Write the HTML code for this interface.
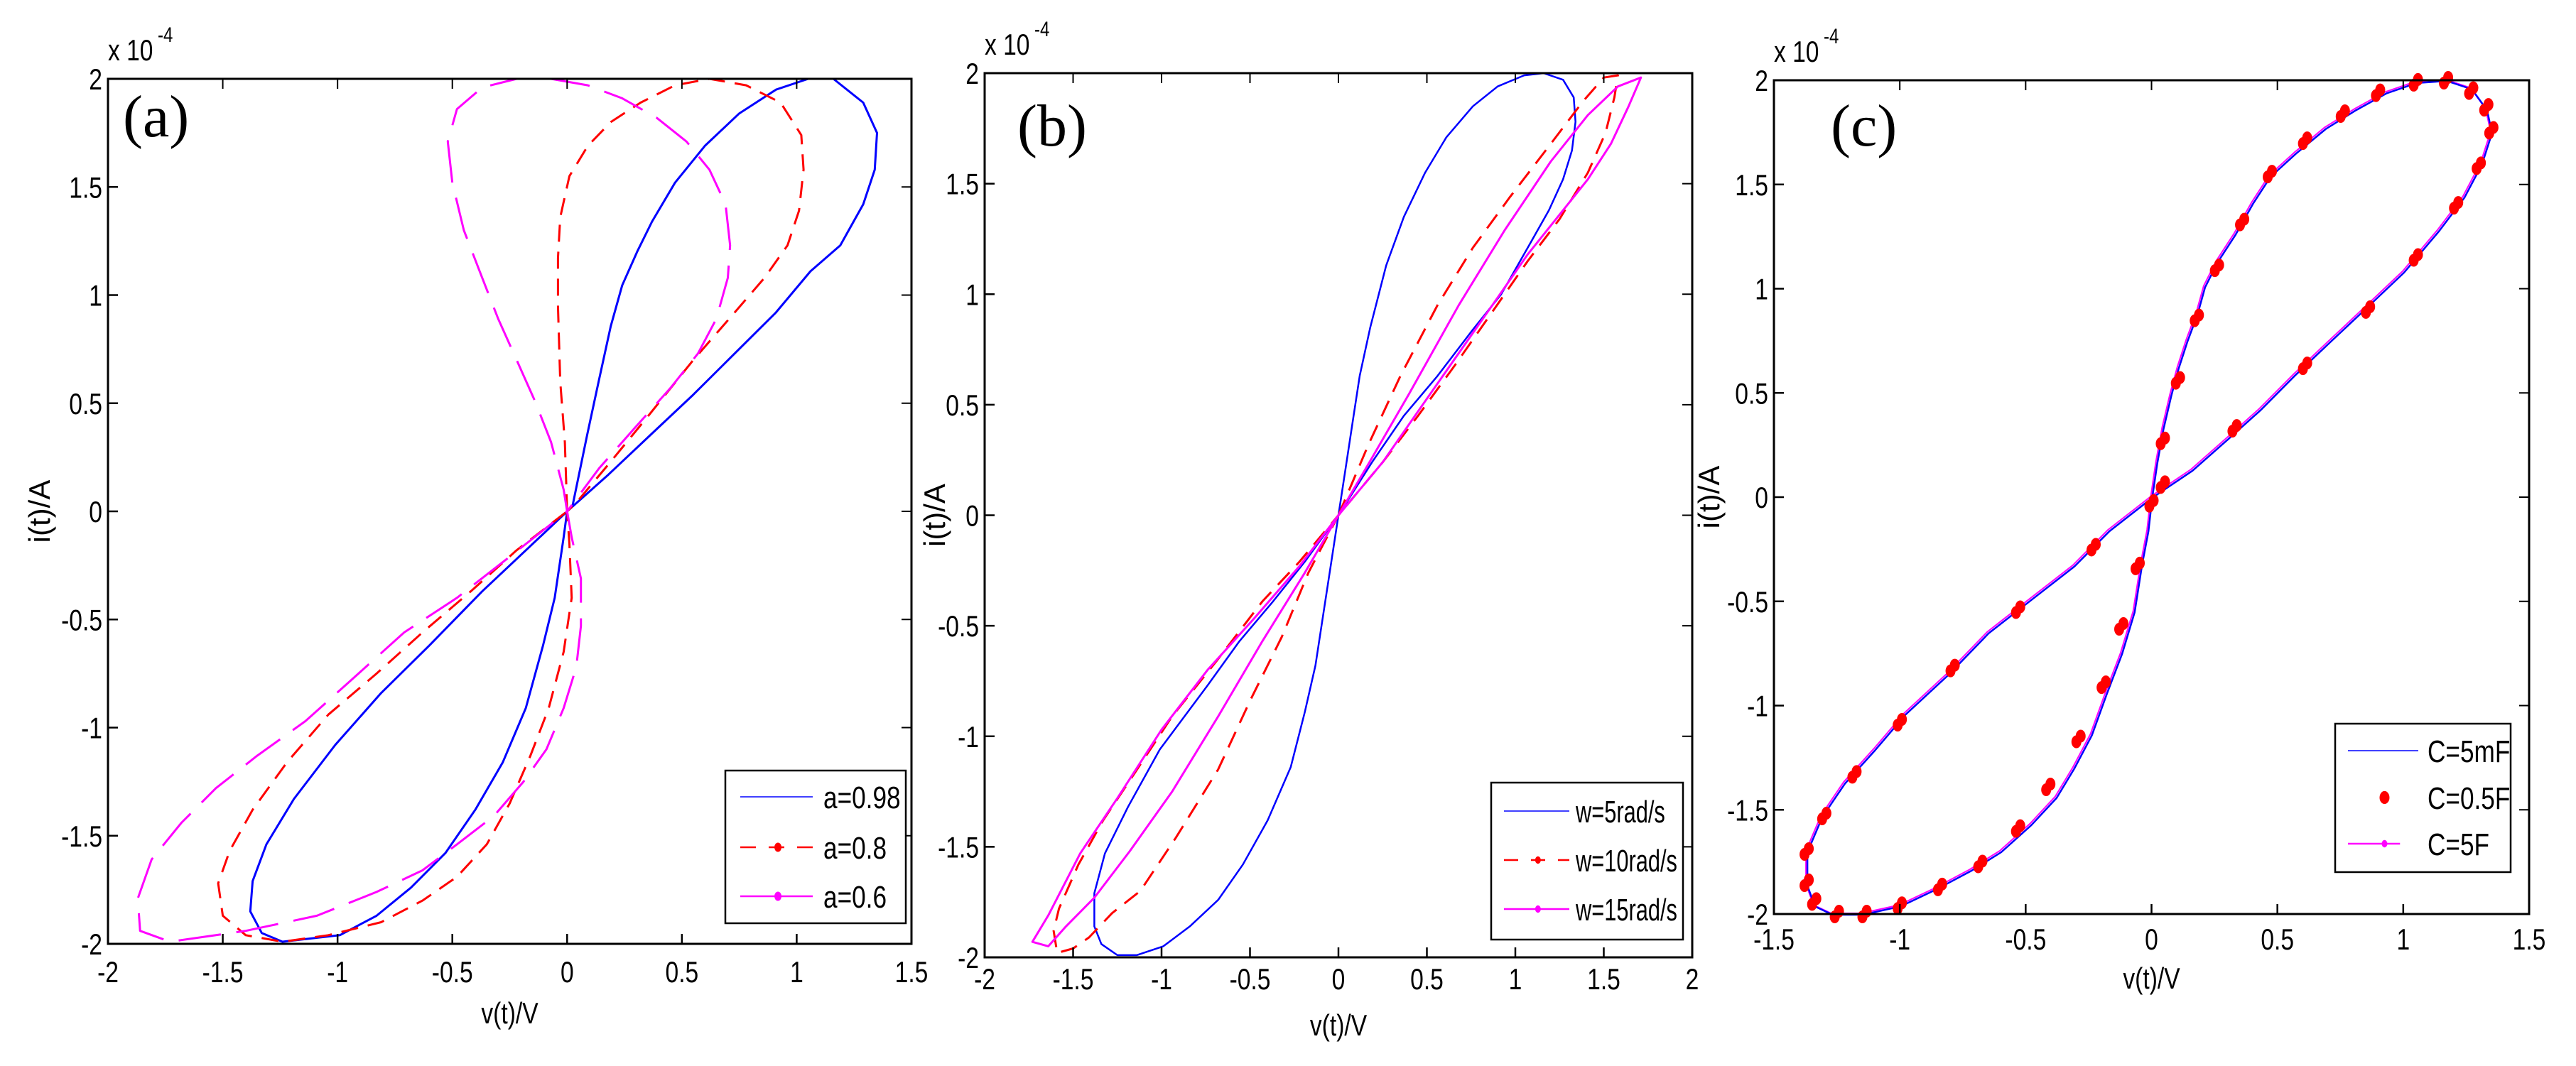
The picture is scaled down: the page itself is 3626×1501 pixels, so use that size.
<!DOCTYPE html>
<html><head><meta charset="utf-8">
<style>
html,body{margin:0;padding:0;background:#fff;}
svg{display:block;}
text{font-family:"Liberation Sans",Arial,sans-serif;fill:#000;}
.ser{font-family:"Liberation Serif","Times New Roman",serif;}
</style></head>
<body>
<svg id="fig" width="3626" height="1501" viewBox="0 0 3626 1501" xmlns="http://www.w3.org/2000/svg"></svg>
<script>
// ---------- data (v in V, i in 1e-4 A) ----------
const xTicksA = [-2,-1.5,-1,-0.5,0,0.5,1,1.5];
const xTicksB = [-2,-1.5,-1,-0.5,0,0.5,1,1.5,2];
const xTicksC = [-1.5,-1,-0.5,0,0.5,1,1.5];
const yTicks = [-2,-1.5,-1,-0.5,0,0.5,1,1.5,2];

const legendA = ["a=0.98","a=0.8","a=0.6"];
const legendB = ["w=5rad/s","w=10rad/s","w=15rad/s"];
const legendC = ["C=5mF","C=0.5F","C=5F"];

const a098 = [[0,0],[0.023,0.022],[0.087,0.352],[0.138,0.604],[0.19,0.856],[0.24,1.045],[0.305,1.20],[0.37,1.34],[0.47,1.52],[0.60,1.69],[0.75,1.84],[0.91,1.95],[1.05,2.0],[1.16,2.0],[1.29,1.89],[1.35,1.75],[1.34,1.58],[1.29,1.42],[1.19,1.23],[1.06,1.11],[0.91,0.92],[0.73,0.73],[0.55,0.54],[0.36,0.35],[0.18,0.17],[0,0],
[-0.015,-0.12],[-0.054,-0.40],[-0.105,-0.62],[-0.18,-0.91],[-0.28,-1.16],[-0.40,-1.38],[-0.53,-1.58],[-0.68,-1.74],[-0.83,-1.87],[-0.99,-1.96],[-1.24,-1.99],[-1.33,-1.95],[-1.38,-1.85],[-1.37,-1.71],[-1.31,-1.54],[-1.19,-1.33],[-1.01,-1.08],[-0.81,-0.84],[-0.60,-0.62],[-0.37,-0.37],[-0.17,-0.17],[0,0]];
const a08 = [[0,0],[-0.01,0.32],[-0.03,0.60],[-0.04,0.95],[-0.04,1.17],[-0.03,1.36],[0.01,1.55],[0.09,1.69],[0.19,1.80],[0.32,1.89],[0.47,1.97],[0.62,2.0],[0.78,1.97],[0.93,1.89],[1.02,1.74],[1.03,1.58],[1.01,1.39],[0.96,1.23],[0.86,1.08],[0.73,0.92],[0.55,0.70],[0.36,0.45],[0.19,0.23],[0.04,0.04],[0,0],
[0.01,-0.15],[0.02,-0.40],[-0.015,-0.65],[-0.08,-0.91],[-0.16,-1.13],[-0.25,-1.35],[-0.35,-1.54],[-0.48,-1.69],[-0.63,-1.80],[-0.81,-1.90],[-1.04,-1.96],[-1.24,-1.99],[-1.40,-1.96],[-1.50,-1.87],[-1.52,-1.72],[-1.47,-1.57],[-1.37,-1.38],[-1.22,-1.16],[-1.04,-0.94],[-0.83,-0.75],[-0.63,-0.56],[-0.42,-0.37],[-0.22,-0.18],[0,0]];
const a06 = [[0,0],[-0.015,0.10],[-0.07,0.32],[-0.14,0.51],[-0.22,0.70],[-0.30,0.89],[-0.37,1.08],[-0.45,1.30],[-0.50,1.52],[-0.52,1.71],[-0.48,1.86],[-0.37,1.96],[-0.22,2.0],[-0.07,2.0],[0.09,1.97],[0.24,1.91],[0.39,1.82],[0.52,1.71],[0.62,1.58],[0.69,1.42],[0.71,1.23],[0.70,1.08],[0.65,0.89],[0.57,0.73],[0.45,0.57],[0.29,0.38],[0.14,0.20],[0,0],
[0.02,-0.12],[0.06,-0.31],[0.06,-0.53],[0.04,-0.72],[-0.015,-0.91],[-0.09,-1.10],[-0.19,-1.25],[-0.32,-1.41],[-0.48,-1.54],[-0.63,-1.66],[-0.83,-1.76],[-1.09,-1.87],[-1.40,-1.94],[-1.73,-1.99],[-1.86,-1.94],[-1.87,-1.79],[-1.81,-1.61],[-1.68,-1.44],[-1.53,-1.28],[-1.35,-1.13],[-1.14,-0.97],[-0.94,-0.78],[-0.71,-0.56],[-0.48,-0.40],[-0.25,-0.21],[0,0]];

const bW5 = [[0,0],[0.04,0.21],[0.08,0.42],[0.12,0.63],[0.18,0.85],[0.27,1.13],[0.37,1.35],[0.49,1.55],[0.61,1.71],[0.76,1.85],[0.90,1.94],[1.05,1.99],[1.16,2.0],[1.27,1.97],[1.33,1.89],[1.34,1.78],[1.32,1.65],[1.27,1.52],[1.19,1.38],[1.07,1.21],[0.92,1.00],[0.76,0.84],[0.56,0.63],[0.37,0.45],[0.19,0.24],[0,0],
[-0.04,-0.21],[-0.09,-0.47],[-0.13,-0.68],[-0.19,-0.89],[-0.27,-1.14],[-0.40,-1.38],[-0.54,-1.58],[-0.68,-1.74],[-0.84,-1.86],[-0.99,-1.95],[-1.14,-1.99],[-1.25,-1.99],[-1.34,-1.94],[-1.38,-1.86],[-1.38,-1.71],[-1.32,-1.53],[-1.19,-1.32],[-1.01,-1.06],[-0.74,-0.77],[-0.56,-0.57],[-0.37,-0.39],[-0.19,-0.21],[0,0]];
const bW10 = [[0,0],[0.17,0.32],[0.35,0.63],[0.56,0.95],[0.76,1.21],[0.97,1.44],[1.20,1.68],[1.38,1.87],[1.50,1.98],[1.58,1.99],[1.56,1.89],[1.51,1.73],[1.41,1.55],[1.25,1.34],[1.07,1.15],[0.87,0.92],[0.66,0.68],[0.45,0.45],[0.25,0.24],[0,0],
[-0.17,-0.26],[-0.32,-0.55],[-0.50,-0.84],[-0.68,-1.15],[-0.92,-1.46],[-1.12,-1.70],[-1.28,-1.80],[-1.41,-1.91],[-1.50,-1.96],[-1.59,-1.98],[-1.61,-1.88],[-1.58,-1.78],[-1.47,-1.58],[-1.33,-1.38],[-1.18,-1.20],[-0.94,-0.91],[-0.68,-0.65],[-0.43,-0.39],[-0.22,-0.21],[0,0]];
const bW15 = [[0,0],[0.19,0.26],[0.40,0.55],[0.68,0.95],[0.94,1.29],[1.20,1.60],[1.41,1.81],[1.58,1.94],[1.71,1.98],[1.64,1.85],[1.54,1.68],[1.41,1.52],[1.25,1.36],[1.07,1.18],[0.87,0.95],[0.66,0.71],[0.45,0.47],[0.25,0.24],[0,0],
[-0.19,-0.26],[-0.43,-0.57],[-0.68,-0.91],[-0.94,-1.25],[-1.18,-1.52],[-1.38,-1.73],[-1.54,-1.86],[-1.64,-1.95],[-1.73,-1.93],[-1.64,-1.81],[-1.46,-1.53],[-1.25,-1.28],[-1.00,-0.97],[-0.74,-0.70],[-0.48,-0.47],[-0.22,-0.23],[0,0]];

const cLoop = [[0,0],[0.02,0.165],[0.045,0.33],[0.076,0.49],[0.105,0.62],[0.14,0.75],[0.18,0.88],[0.21,1.01],[0.26,1.13],[0.33,1.26],[0.40,1.41],[0.47,1.54],[0.57,1.65],[0.69,1.77],[0.81,1.86],[0.93,1.94],[1.05,1.99],[1.17,2.0],[1.27,1.96],[1.33,1.86],[1.35,1.75],[1.31,1.60],[1.24,1.44],[1.14,1.28],[1.00,1.08],[0.86,0.92],[0.71,0.75],[0.57,0.59],[0.43,0.42],[0.31,0.29],[0.16,0.13],[0,0],
[-0.015,-0.16],[-0.04,-0.32],[-0.07,-0.55],[-0.12,-0.75],[-0.18,-0.94],[-0.24,-1.14],[-0.31,-1.30],[-0.38,-1.44],[-0.48,-1.57],[-0.60,-1.70],[-0.72,-1.79],[-0.86,-1.88],[-1.00,-1.96],[-1.15,-2.0],[-1.27,-2.0],[-1.34,-1.96],[-1.37,-1.86],[-1.37,-1.70],[-1.31,-1.53],[-1.22,-1.37],[-1.10,-1.21],[-0.98,-1.04],[-0.81,-0.85],[-0.65,-0.65],[-0.48,-0.49],[-0.31,-0.33],[-0.17,-0.16],[0,0]];
const cDots = [[1.05,1.99],[1.17,2.0],[1.27,1.95],[1.33,1.87],[1.35,1.76],[1.30,1.59],[1.21,1.40],[1.05,1.15],[0.86,0.90],[0.61,0.63],[0.33,0.33],[0.045,0.06],[-0.23,-0.24],[-0.53,-0.54],[-0.79,-0.82],[-1.00,-1.08],[-1.18,-1.33],[-1.30,-1.53],[-1.37,-1.70],[-1.37,-1.85],[-1.34,-1.94],[-1.25,-2.0],[-1.14,-2.0],[-1.00,-1.96],[-0.84,-1.87],[-0.68,-1.76],[-0.53,-1.59],[-0.41,-1.39],[-0.29,-1.16],[-0.19,-0.90],[-0.12,-0.62],[-0.055,-0.33],[0.0,-0.03],[0.045,0.27],[0.105,0.56],[0.18,0.86],[0.26,1.10],[0.36,1.32],[0.47,1.55],[0.61,1.71],[0.76,1.84],[0.90,1.94]];

// ---------- drawing ----------
const NS = "http://www.w3.org/2000/svg";
const svg = document.getElementById('fig');
const SQ = 0.8;
function mk(tag, attrs, parent){
  const e = document.createElementNS(NS, tag);
  for (const k in attrs) e.setAttribute(k, attrs[k]);
  (parent||svg).appendChild(e);
  return e;
}
function txt(s, x, y, size, anchor, parent, cls, sq){
  const t = mk('text', {x:0, y:0, 'font-size':size, 'text-anchor':anchor||'start'}, parent);
  if (cls) { t.setAttribute('class', cls); t.setAttribute('transform','translate('+x+','+y+')'); }
  else t.setAttribute('transform','translate('+x+','+y+') scale('+(sq||SQ)+',1)');
  t.textContent = s;
  return t;
}

function panel(cfg){
  const g = mk('g', {});
  
  
  const L=cfg.L,R=cfg.R,T=cfg.T,B=cfg.B;
  const sx = v => L + (v - cfg.xmin)/(cfg.xmax-cfg.xmin)*(R-L);
  const sy = i => B - (i + 2)/4*(B-T);
  const sg = mk('g', {}, g);
  
  
  cfg.series.forEach(s=>{
    const d = s.data.map((p,k)=>(k?'L':'M')+(sx(p[0])+(s.dx||0)).toFixed(1)+' '+(sy(p[1])+(s.dy||0)).toFixed(1)).join(' ');
    const p = mk('path', {d:d, fill:'none', stroke:s.color, 'stroke-width':s.w||3, 'stroke-linejoin':'round'}, sg);
    if (s.dash) p.setAttribute('stroke-dasharray', s.dash);
    
    
  });
  if (cfg.dots){
    cfg.dots.forEach(p=>{
      const c1 = mk('ellipse', {cx:sx(p[0])-3, cy:sy(p[1])+4, rx:7, ry:9, fill:'#ff0000'}, sg);
      
      
      const c2 = mk('ellipse', {cx:sx(p[0])+3, cy:sy(p[1])-4, rx:7, ry:9, fill:'#ff0000'}, sg);
      
      
    });
  }
  const box = mk('rect', {x:L, y:T, width:R-L, height:B-T, fill:'none', stroke:'#000', 'stroke-width':3}, g);
  
  
  cfg.xticks.forEach(v=>{
    const x = sx(v);
    mk('line', {x1:x, y1:B, x2:x, y2:B-14, stroke:'#000','stroke-width':2.5}, g);
    mk('line', {x1:x, y1:T, x2:x, y2:T+14, stroke:'#000','stroke-width':2}, g);
    const t = txt(String(v), x, B+cfg.xlabOff, 42, 'middle', g);
    
    
  });
  yTicks.forEach(v=>{
    const y = sy(v);
    mk('line', {x1:L, y1:y, x2:L+14, y2:y, stroke:'#000','stroke-width':2.5}, g);
    mk('line', {x1:R, y1:y, x2:R-14, y2:y, stroke:'#000','stroke-width':2}, g);
    const t = txt(String(v), L-8, y+15, 42, 'end', g);
    
    
  });
  const ex = txt('x 10', L, T-26, 42, 'start', g);
  
  
  const ex2 = txt('-4', L+70, T-52, 30, 'start', g);
  
  
  const xl = txt('v(t)/V', (L+R)/2, B+cfg.xtitleOff, 42, 'middle', g);
  
  
  const yl = mk('text', {x:0, y:0, 'font-size':42, 'text-anchor':'middle'}, g);
  yl.textContent = 'i(t)/A';
  yl.setAttribute('transform', 'translate('+cfg.ytitleX+','+((T+B)/2)+') rotate(-90)');
  
  
  const pl = txt(cfg.label, cfg.labelX, cfg.labelY, 84, 'start', g, 'ser');
  
  
  const lg = cfg.legend;
  const lgG = mk('g', {}, g);
  
  
  mk('rect', {x:lg.x, y:lg.y, width:lg.w, height:lg.h, fill:'#fff', stroke:'#000', 'stroke-width':2.5}, lgG);
  lg.labels.forEach((lab,k)=>{
    const st = lg.styles[k];
    const yy = lg.rows[k];
    const e = mk('g', {}, lgG);
    
    
    if (st.line){
      const ln = mk('line', {x1:lg.lx1, y1:yy, x2:st.short?lg.lx1+(lg.lx2-lg.lx1)*0.74:lg.lx2, y2:yy, stroke:st.color, 'stroke-width':st.w||2.5}, e);
      if (st.dash) ln.setAttribute('stroke-dasharray', st.dash);
    }
    if (st.dot){
      mk('ellipse', {cx:lg.lx1+(lg.lx2-lg.lx1)*0.52, cy:yy, rx:st.dot, ry:st.dot*1.3, fill:st.color}, e);
    }
    txt(lab, lg.tx, yy+16, 44, 'start', e, null, lg.sq);
  });
}

panel({
  name:'panel-a', L:152, R:1283, T:111, B:1329, xmin:-2, xmax:1.5, xticks:xTicksA,
  xlabOff:54, xtitleOff:112, ytitleX:70, label:'(a)', labelX:173, labelY:192,
  series:[
    {id:'series-a098', data:a098, color:'#0000ff', w:3},
    {id:'series-a08', data:a08, color:'#ff0000', w:3, dash:'24 14'},
    {id:'series-a06', data:a06, color:'#ff00ff', w:3, dash:'60 22'}
  ],
  legend:{x:1021,y:1085,w:254,h:215,rows:[1122,1193,1262],lx1:1042,lx2:1144,tx:1159,labels:legendA,sq:0.8,
    styles:[{line:true,color:'#0000ff',w:1.5},{line:true,color:'#ff0000',dash:'22 18',dot:5},{line:true,color:'#ff00ff',dot:5}]}
});
panel({
  name:'panel-b', L:1386, R:2382, T:103, B:1348, xmin:-2, xmax:2, xticks:xTicksB,
  xlabOff:45, xtitleOff:110, ytitleX:1330, label:'(b)', labelX:1432, labelY:205,
  series:[
    {id:'series-w5', data:bW5, color:'#0000ff', w:2.5},
    {id:'series-w10', data:bW10, color:'#ff0000', w:3, dash:'24 14'},
    {id:'series-w15', data:bW15, color:'#ff00ff', w:3}
  ],
  legend:{x:2099,y:1102,w:270,h:221,rows:[1142,1211,1280],lx1:2117,lx2:2209,tx:2218,labels:legendB,sq:0.7,
    styles:[{line:true,color:'#0000ff',w:1.5},{line:true,color:'#ff0000',dash:'20 18',dot:4},{line:true,color:'#ff00ff',dot:4}]}
});
panel({
  name:'panel-c', L:2497, R:3560, T:113, B:1287, xmin:-1.5, xmax:1.5, xticks:xTicksC,
  xlabOff:50, xtitleOff:105, ytitleX:2420, label:'(c)', labelX:2577, labelY:205,
  series:[
    {id:'series-c5f', data:cLoop, color:'#ff00ff', w:2, dx:-1, dy:-1},
    {id:'series-c5mf', data:cLoop, color:'#0000ff', w:2.5, dx:1, dy:1}
  ],
  dots:cDots,
  legend:{x:3287,y:1019,w:247,h:209,rows:[1057,1123,1188],lx1:3305,lx2:3404,tx:3417,labels:legendC,sq:0.8,
    styles:[{line:true,color:'#0000ff',w:1.5},{dot:7,color:'#ff0000'},{line:true,short:true,color:'#ff00ff',dot:4}]}
});
</script>
</body></html>
